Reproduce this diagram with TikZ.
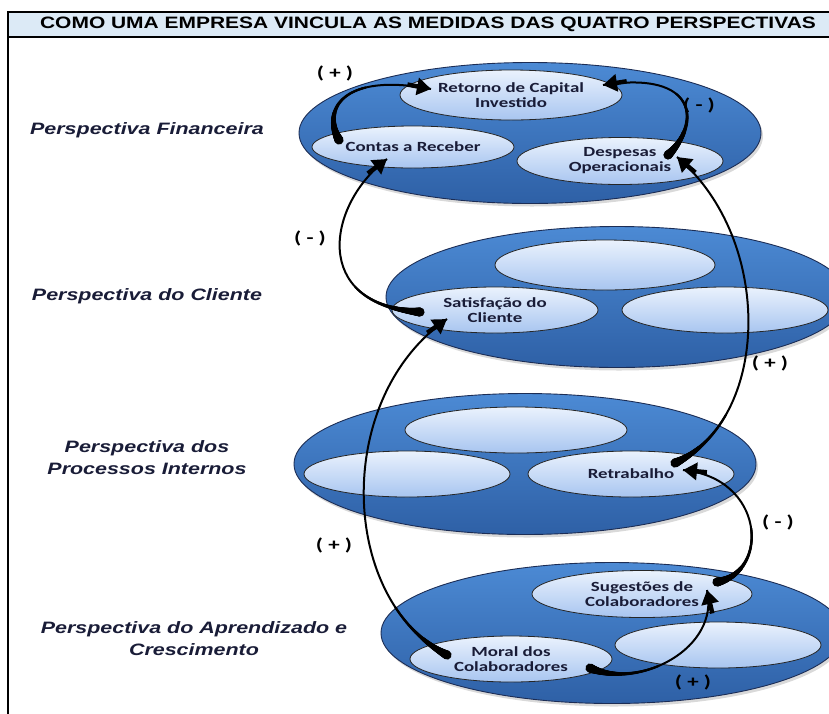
\documentclass[tikz,border=0pt]{standalone}
\usepackage{fontspec}
\setmainfont{Liberation Sans}
\newfontfamily\titlefont[FakeStretch=1.27]{Liberation Sans}
\newfontfamily\sidefont[FakeStretch=1.3]{Liberation Sans}
\newfontfamily\cellfont[FakeStretch=1.35]{Carlito}
\usepackage{tikz}
\usetikzlibrary{arrows.meta,shapes.geometric,positioning,calc,decorations.markings,shadows}
\definecolor{ringtop}{RGB}{76,138,212}
\definecolor{ringbot}{RGB}{46,96,166}
\definecolor{ringline}{RGB}{28,45,85}
\definecolor{celltop}{RGB}{234,242,253}
\definecolor{cellbot}{RGB}{168,197,240}
\definecolor{ink}{RGB}{25,28,55}
\definecolor{titlebg}{RGB}{220,234,246}

\begin{document}
\begin{tikzpicture}[x=1pt, y=1pt,
    ring/.style={ellipse, draw=ringline, line width=0.9pt, top color=ringtop, bottom color=ringbot, minimum width=462pt, minimum height=141pt, inner sep=0pt, drop shadow={shadow xshift=2pt, shadow yshift=-3pt, opacity=0.3}},
    cell/.style={ellipse, draw=black!85, line width=0.8pt, top color=celltop, bottom color=cellbot, minimum width=206pt, minimum height=46pt, inner sep=0pt, align=center, text=ink, font=\cellfont\bfseries\fontsize{14}{15}\selectfont},
    side/.style={align=center, text=ink, font=\sidefont\bfseries\itshape\fontsize{16.5}{22}\selectfont},
    sign/.style={text=black, font=\cellfont\bfseries\fontsize{17}{17}\selectfont},
    flow/.style={draw=black, line width=2pt,
        postaction={decorate, decoration={markings,
            mark=between positions 0 and 70pt step 0.5pt with {
                \pgfmathsetmacro\flowr{1+3.6*exp(-\pgfkeysvalueof{/pgf/decoration/mark info/distance from start}/22)}
                \fill (0,0) circle (\flowr pt);}}}},
    flowhead/.style={draw=black, line width=4.5pt, -{Triangle[length=14pt,width=17pt]}}
]
    \useasboundingbox (0,0) rectangle (829,-713);
    \clip (0,0) rectangle (829,-713);

    % Frame and title
    \draw[line width=2.5pt] (8,-12) -- (8,-720);
    \draw[fill=titlebg, line width=1.4pt] (8,-12) rectangle (840,-37);
    \node[font=\titlefont\bfseries\fontsize{16.5}{16.5}\selectfont] (title) at (428,-24.5) {COMO UMA EMPRESA VINCULA AS MEDIDAS DAS QUATRO PERSPECTIVAS};

    % Perspective names
    \node[side] (lfin) at (147,-130) {Perspectiva Financeira};
    \node[side] (lcli) at (147,-296) {Perspectiva do Cliente};
    \node[side] (lproc) at (147,-458) {Perspectiva dos\\Processos Internos};
    \node[side] (lapr) at (194,-639) {Perspectiva do Aprendizado e\\Crescimento};

    % Financeira
    \node[ring] (fin) at (530,-133) {};
    \node[cell, minimum width=222pt, minimum height=50pt] (retorno) at (511,-95) {Retorno de Capital\\Investido};
    \node[cell, minimum width=202pt, minimum height=42pt] (contas) at (413,-147) {Contas a Receber};
    \node[cell, minimum height=47pt] (despesas) at (620,-161) {Despesas\\Operacionais};

    % Cliente
    \node[ring] (cli) at (617,-297) {};
    \node[cell, minimum width=220pt, minimum height=50pt] (clitop) at (605,-265) {};
    \node[cell] (satisf) at (495,-310) {Satisfação do\\Cliente};
    \node[cell] (cliright) at (725,-310) {};

    % Processos internos
    \node[ring] (proc) at (525,-464) {};
    \node[cell, minimum width=222pt] (proctop) at (516,-430) {};
    \node[cell] (procleft) at (407,-474) {};
    \node[cell] (retrab) at (631,-474) {Retrabalho};

    % Aprendizado e crescimento
    \node[ring] (apr) at (612,-633) {};
    \node[cell, minimum width=220pt, minimum height=47pt] (sugest) at (642,-594) {Sugestões de\\Colaboradores};
    \node[cell, minimum width=202pt] (moral) at (511,-659) {Moral dos\\Colaboradores};
    \node[cell] (aprright) at (718,-645) {};

    % Links
    \draw[flow] ([xshift=-74pt,yshift=7pt]contas.center) .. controls +(-17,30) and +(-89,17) .. ([xshift=-80pt,yshift=6pt]retorno.center);
    \draw[flowhead] ([xshift=-80pt,yshift=6pt]retorno.center) ++(-23.6,4.5) -- ++(23.6,-4.5);
    \draw[flow] ([xshift=48pt,yshift=6pt]despesas.center) .. controls +(32,30) and +(97,15) .. ([xshift=92pt,yshift=10pt]retorno.center);
    \draw[flowhead] ([xshift=92pt,yshift=10pt]retorno.center) ++(23.7,3.7) -- ++(-23.7,-3.7);
    \draw[flow] ([xshift=-75pt,yshift=-2pt]satisf.center) .. controls +(-110,7) and +(-60,-45) .. ([xshift=-26pt,yshift=-12pt]contas.center);
    \draw[flowhead] ([xshift=-26pt,yshift=-12pt]contas.center) ++(-19.2,-14.4) -- ++(19.2,14.4);
    \draw[flow] ([xshift=-64pt,yshift=4pt]moral.center) .. controls +(-107,55) and +(-115,-80) .. ([xshift=-48pt,yshift=-9pt]satisf.center);
    \draw[flowhead] ([xshift=-48pt,yshift=-9pt]satisf.center) ++(-19.7,-13.7) -- ++(19.7,13.7);
    \draw[flow] ([xshift=44pt,yshift=11pt]retrab.center) .. controls +(95,43) and +(98,-83) .. ([xshift=57pt,yshift=4pt]despesas.center);
    \draw[flowhead] ([xshift=57pt,yshift=4pt]despesas.center) ++(18.3,-15.5) -- ++(-18.3,15.5);
    \draw[flow] ([xshift=75pt,yshift=12pt]sugest.center) .. controls +(53,10) and +(82,-8) .. ([xshift=52pt,yshift=4pt]retrab.center);
    \draw[flowhead] ([xshift=52pt,yshift=4pt]retrab.center) ++(23.9,-2.3) -- ++(-23.9,2.3);
    \draw[flow] ([xshift=79pt,yshift=-9pt]moral.center) .. controls +(50,-22) and +(13,-58) .. ([xshift=65pt,yshift=4pt]sugest.center);
    \draw[flowhead] ([xshift=65pt,yshift=4pt]sugest.center) ++(5.3,-23.4) -- ++(-5.3,23.4);

    % Signs
    \node[sign] (s1) at (335,-73) {( + )};
    \node[sign] (s2) at (699,-105) {( - )};
    \node[sign] (s3) at (310,-238) {( - )};
    \node[sign] (s4) at (770,-363) {( + )};
    \node[sign] (s5) at (334,-545) {( + )};
    \node[sign] (s6) at (778,-522) {( - )};
    \node[sign] (s7) at (693,-682) {( + )};
\end{tikzpicture}
\end{document}
